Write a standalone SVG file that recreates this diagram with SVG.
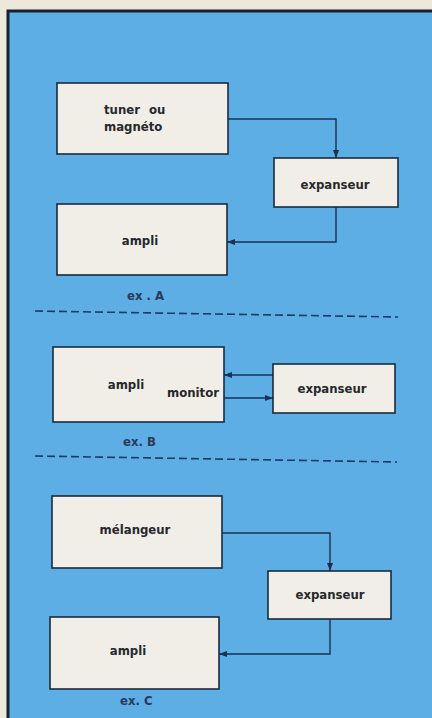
<svg xmlns="http://www.w3.org/2000/svg" width="432" height="718" viewBox="0 0 432 718">
<defs>
<style>
.box{fill:#f1eee8;stroke:#1c2a3c;stroke-width:1.6}
.wire{fill:none;stroke:#1c3050;stroke-width:1.4}
.dash{fill:none;stroke:#1c3a66;stroke-width:1.6;stroke-dasharray:8 4}
text{font-family:"DejaVu Sans Condensed","DejaVu Sans","Liberation Sans",sans-serif;font-stretch:condensed;font-weight:bold;font-size:13px;fill:#26282e}
.lab{fill:#2a3a5a;font-size:13px}
</style>
<marker id="ah" viewBox="0 0 8 6" refX="8" refY="3" markerWidth="8" markerHeight="6" markerUnits="userSpaceOnUse" orient="auto">
<path d="M0,0 L8,3 L0,6 Z" fill="#1c3050"/>
</marker>
</defs>
<rect x="0" y="0" width="432" height="718" fill="#eee8da"/>
<rect x="8" y="11" width="430" height="715" fill="#5daee4" stroke="#14202e" stroke-width="3"/>

<g id="connectors">
<polyline class="wire" points="228,119 336,119 336,158" marker-end="url(#ah)"/>
<polyline class="wire" points="336,207 336,242 227,242" marker-end="url(#ah)"/>
<line class="wire" x1="273" y1="375" x2="224" y2="375" marker-end="url(#ah)"/>
<line class="wire" x1="224" y1="398" x2="273" y2="398" marker-end="url(#ah)"/>
<polyline class="wire" points="222,533 330,533 330,571" marker-end="url(#ah)"/>
<polyline class="wire" points="330,619 330,654 219,654" marker-end="url(#ah)"/>
</g>

<g id="separators">
<line class="dash" x1="35" y1="311" x2="398" y2="317"/>
<line class="dash" x1="35" y1="456" x2="397" y2="462"/>
</g>

<g id="tunerA">
<rect class="box" x="57" y="83" width="171" height="71"/>
<text x="104" y="114" word-spacing="5">tuner ou</text>
<text x="104" y="131">magnéto</text>
</g>
<g id="expanseurA">
<rect class="box" x="274" y="158" width="124" height="49"/>
<text x="335" y="189" text-anchor="middle">expanseur</text>
</g>
<g id="ampliA">
<rect class="box" x="57" y="204" width="170" height="71"/>
<text x="140" y="245" text-anchor="middle">ampli</text>
</g>
<text class="lab" x="127" y="300">ex . A</text>

<g id="ampliB">
<rect class="box" x="53" y="347" width="171" height="75"/>
<text x="126" y="389" text-anchor="middle">ampli</text>
<text x="193" y="397" text-anchor="middle">monitor</text>
</g>
<g id="expanseurB">
<rect class="box" x="273" y="364" width="122" height="49"/>
<text x="332" y="393" text-anchor="middle">expanseur</text>
</g>
<text class="lab" x="123" y="446">ex. B</text>

<g id="melangeurC">
<rect class="box" x="52" y="496" width="170" height="72"/>
<text x="135" y="534" text-anchor="middle">mélangeur</text>
</g>
<g id="expanseurC">
<rect class="box" x="268" y="571" width="123" height="48"/>
<text x="330" y="599" text-anchor="middle">expanseur</text>
</g>
<g id="ampliC">
<rect class="box" x="50" y="617" width="169" height="72"/>
<text x="128" y="655" text-anchor="middle">ampli</text>
</g>
<text class="lab" x="120" y="705">ex. C</text>
</svg>
